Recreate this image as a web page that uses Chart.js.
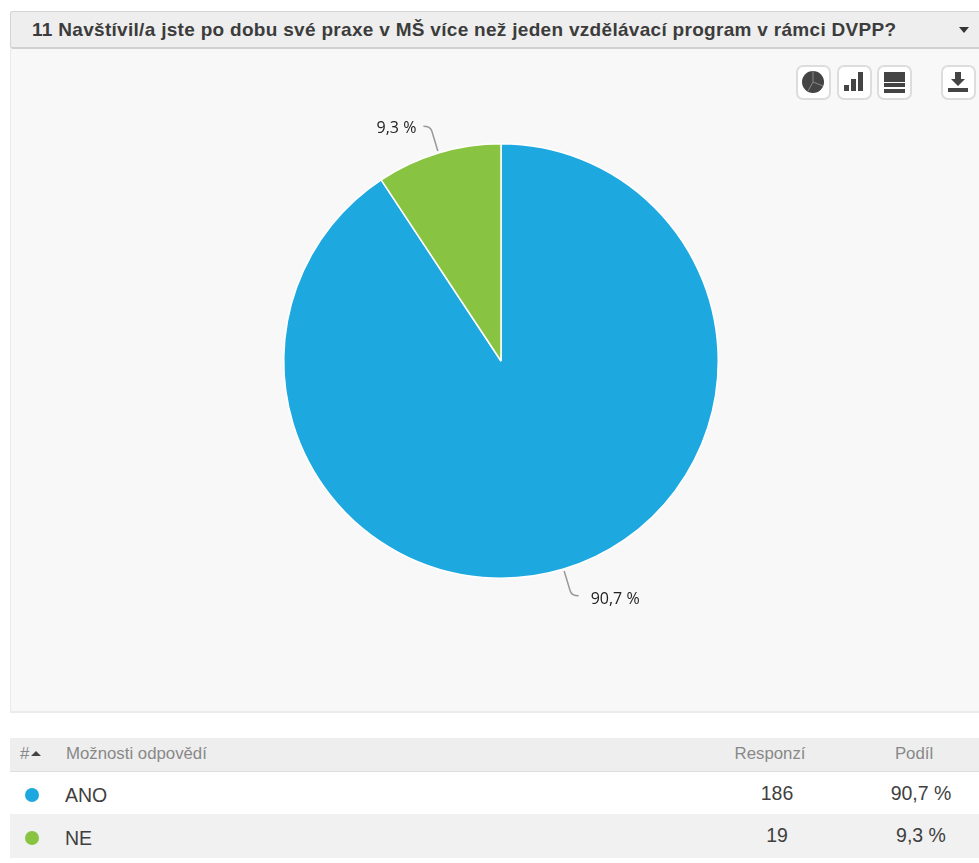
<!DOCTYPE html>
<html lang="cs">
<head>
<meta charset="utf-8">
<title>DVPP</title>
<script src="https://cdn.jsdelivr.net/npm/chart.js@4"></script>
<style>
html,body{margin:0;padding:0;background:#fff;overflow:hidden}
body{width:979px;height:863px;position:relative;font-family:"Liberation Sans",Arial,sans-serif;color:#3a3a3a}
#head{position:absolute;left:10px;top:11px;width:969px;height:38px;box-sizing:border-box;background:#eee;border:1px solid #d4d4d4;border-bottom:2px solid #d0d0d0;border-right:0;border-radius:3px 0 0 3px}
#title{position:absolute;left:21px;top:7px;font-size:19px;font-weight:bold;line-height:22px;letter-spacing:.3px;white-space:nowrap;color:#3c3c3c}
#caret{position:absolute;left:948px;top:15px;width:0;height:0;border:5px solid transparent;border-top:6px solid #333;border-bottom:0}
#panel{position:absolute;left:10px;top:49px;width:969px;height:664px;background:#f8f8f8;box-shadow:inset 1px 0 0 #eaeaea,inset 0 -2px 0 #ebebeb}
#chart{position:absolute;left:0;top:0}
.btn{position:absolute;top:65px;width:35px;height:35px;box-sizing:border-box;background:#fff;border:2px solid #ddd;border-radius:7px}
.btn svg{position:absolute;left:3px;top:3px}
.row{position:absolute;left:10px;width:969px}
.row span{position:absolute;white-space:nowrap}
.th{top:738px;height:34px;background:#eee;border-bottom:1px solid #ddd;box-sizing:border-box;color:#888;font-size:16.8px;line-height:32px}
.td{font-size:19.5px;line-height:43px;color:#3f3f3f}
.dot{width:14px;height:14px;border-radius:50%;left:15px;top:16px}
.num{transform:translateX(-50%)}
</style>
</head>
<body>

<div id="head">
<div id="title"></div>
<div id="caret"></div>
</div>

<div id="panel"><canvas id="chart" width="969" height="664"></canvas></div>

<div class="btn" style="left:796px"><svg width="24" height="24" viewBox="0 0 24 24"><circle cx="12" cy="12" r="11" fill="#444"/><path d="M12 12V1M12 12l10 4M12 12l-5 9" stroke="#888" stroke-width="1" fill="none"/></svg></div>
<div class="btn" style="left:837px"><svg width="24" height="24" viewBox="0 0 24 24"><rect x="2" y="15" width="5" height="6" fill="#444"/><rect x="9" y="9" width="5" height="12" fill="#444"/><rect x="16" y="2" width="5" height="19" fill="#444"/></svg></div>
<div class="btn" style="left:877px"><svg width="24" height="24" viewBox="0 0 24 24"><rect x="2" y="2" width="21" height="10" fill="#444"/><rect x="2" y="13" width="21" height="4" fill="#444"/><rect x="2" y="19" width="21" height="4" fill="#444"/></svg></div>
<div class="btn" style="left:941px"><svg width="24" height="24" viewBox="0 0 24 24"><path d="M9 2h6v7h4l-7 7-7-7h4z" fill="#444"/><rect x="2" y="18" width="20" height="4" fill="#444"/></svg></div>

<div class="row th">
<span style="left:10px">#</span>
<span style="left:21px;top:13px;width:0;height:0;border:5px solid transparent;border-bottom:5px solid #444;border-top:0"></span>
<span id="colAnswer" style="left:56px"></span>
<span id="colCount" class="num" style="left:760px"></span>
<span id="colShare" class="num" style="left:904px"></span>
</div>
<div id="rows"></div>

<script>
const questionTitle="11 Navštívil/a jste po dobu své praxe v MŠ více než jeden vzdělávací program v rámci DVPP?"
const columns=["Možnosti odpovědí","Responzí","Podíl"]
const answers=["ANO","NE"]
const responses=[186,19]
const shares=[90.7,9.3]
const colors=["#1EA8E0","#88C442"]

function percent(v){
return v.toFixed(1).replace(".",",")+" %"
}

document.getElementById("title").textContent=questionTitle
document.getElementById("colAnswer").textContent=columns[0]
document.getElementById("colCount").textContent=columns[1]
document.getElementById("colShare").textContent=columns[2]

function renderTable(){

let html=""

answers.forEach((a,i)=>{

let top=772+i*42
let h=i==0?42:44
let bg=i%2==0?"#fff":"#f1f1f1"

html+=`<div class="row td" style="top:${top}px;height:${h}px;background:${bg}">`
html+=`<span class="dot" style="background:${colors[i]};top:${16+i}px"></span>`
html+=`<span style="left:55px;top:${2+i}px">${a}</span>`
html+=`<span class="num" style="left:767px">${responses[i]}</span>`
html+=`<span class="num" style="left:911px">${percent(shares[i])}</span>`
html+="</div>"

})

document.getElementById("rows").innerHTML=html

}

renderTable()

// curved leader line and share label next to each slice
const sliceLabels={
id:"sliceLabels",
afterDatasetsDraw(chart){

const ctx=chart.ctx

chart.getDatasetMeta(0).data.forEach((arc,i)=>{

const mid=(arc.startAngle+arc.endAngle)/2
const r=arc.outerRadius
const x1=arc.x+Math.cos(mid)*(r+2)
const y1=arc.y+Math.sin(mid)*(r+2)
const x2=arc.x+Math.cos(mid)*(r+28)
const y2=arc.y+Math.sin(mid)*(r+28)
const xb=arc.x+Math.cos(mid)*(r+23)
const yb=arc.y+Math.sin(mid)*(r+23)
const side=Math.cos(mid)>0?1:-1

ctx.save()
ctx.strokeStyle="#999"
ctx.lineWidth=1.5
ctx.beginPath()
ctx.moveTo(x1,y1)
ctx.lineTo(xb,yb)
ctx.quadraticCurveTo(x2,y2,x2+side*7,y2)
ctx.stroke()

ctx.fillStyle="#222"
ctx.font='16px "Open Sans"'
ctx.textAlign=side>0?"left":"right"
ctx.textBaseline="middle"
ctx.fillText(percent(shares[i]),x2+side*(side>0?19:14),y2+(side>0?4:2))
ctx.restore()

})

}
}

new Chart(document.getElementById("chart"),{
type:"pie",
data:{
labels:answers,
datasets:[{
data:shares,
backgroundColor:colors,
borderColor:"#ffffff",
borderWidth:1.5
}]
},
options:{
responsive:false,
animation:false,
layout:{padding:{left:273,right:260,top:94,bottom:134}},
plugins:{legend:{display:false},tooltip:{enabled:false}}
},
plugins:[sliceLabels]
})
</script>
</body>
</html>
